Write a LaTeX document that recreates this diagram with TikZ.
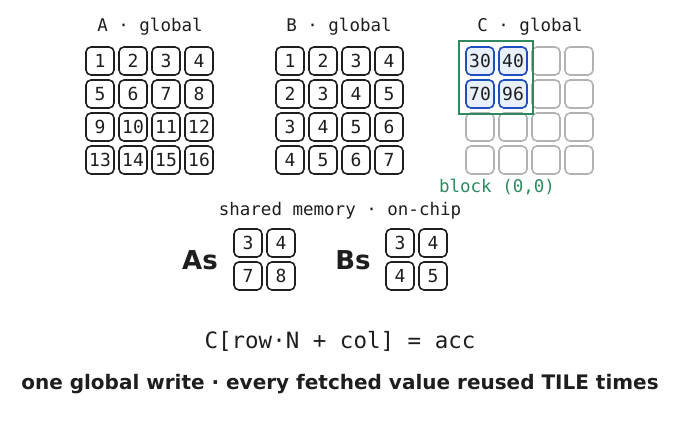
\documentclass[tikz,border=0pt]{standalone}
\usepackage{fontspec}
\setmainfont{DejaVu Sans}
\setmonofont{DejaVu Sans Mono}
\definecolor{ink}{HTML}{1E1E1E}
\definecolor{grn}{HTML}{2E8A5E}
\definecolor{blu}{HTML}{1F4FBF}
\definecolor{bfill}{HTML}{E8F0FB}
\begin{document}
\begin{tikzpicture}[x=1pt,y=-1pt,
 cell/.style={draw=ink,line width=1.6pt,rounded corners=5pt,minimum size=28pt,inner sep=0pt,font=\ttfamily\fontsize{18}{18}\selectfont,text=ink},
 gcell/.style={cell,draw=black!30},
 bcell/.style={cell,draw=blu,fill=bfill},
 ttl/.style={font=\ttfamily\fontsize{17.5}{17.5}\selectfont,text=ink}]
\useasboundingbox (0,0) rectangle (680,430);
\node[ttl] (ta) at (150,27) {A · global};
\node[ttl] (tb) at (339,27) {B · global};
\node[ttl] (tc) at (530,27) {C · global};
\foreach \r in {0,...,3}{\foreach \c in {0,...,3}{
 \pgfmathtruncatemacro\a{4*\r+\c+1}\pgfmathtruncatemacro\b{\r+\c+1}
 \node[cell] (a\r\c) at (100+33*\c,61+33*\r) {\a};
 \node[cell] (b\r\c) at (290+33*\c,61+33*\r) {\b};
 \node[gcell] (c\r\c) at (480+33*\c,61+33*\r) {};
}}
\node[bcell] (k00) at (480,61) {30};
\node[bcell] (k01) at (513,61) {40};
\node[bcell] (k10) at (480,94) {70};
\node[bcell] (k11) at (513,94) {96};
\node[draw=grn,line width=1.6pt,minimum width=74pt,minimum height=73pt] (blk) at (496,77.5) {};
\node[font=\ttfamily\fontsize{17.5}{17.5}\selectfont,text=grn] (bl) at (497,187) {block (0,0)};
\node[ttl] (sm) at (340,211) {shared memory · on-chip};
\node[font=\bfseries\fontsize{26}{26}\selectfont,text=ink] (as) at (200,260) {As};
\node[font=\bfseries\fontsize{26}{26}\selectfont,text=ink] (bs) at (353,260) {Bs};
\node[cell] (s00) at (248,243) {3};
\node[cell] (s01) at (281,243) {4};
\node[cell] (s10) at (248,276) {7};
\node[cell] (s11) at (281,276) {8};
\node[cell] (t00) at (400,243) {3};
\node[cell] (t01) at (433,243) {4};
\node[cell] (t10) at (400,276) {4};
\node[cell] (t11) at (433,276) {5};
\node[font=\ttfamily\fontsize{22.5}{22.5}\selectfont,text=ink] (eq) at (340,341) {C[row·N + col] = acc};
\node[font=\bfseries\fontsize{20}{20}\selectfont,text=ink] (ft) at (340,384) {one global write · every fetched value reused TILE times};
\end{tikzpicture}
\end{document}
